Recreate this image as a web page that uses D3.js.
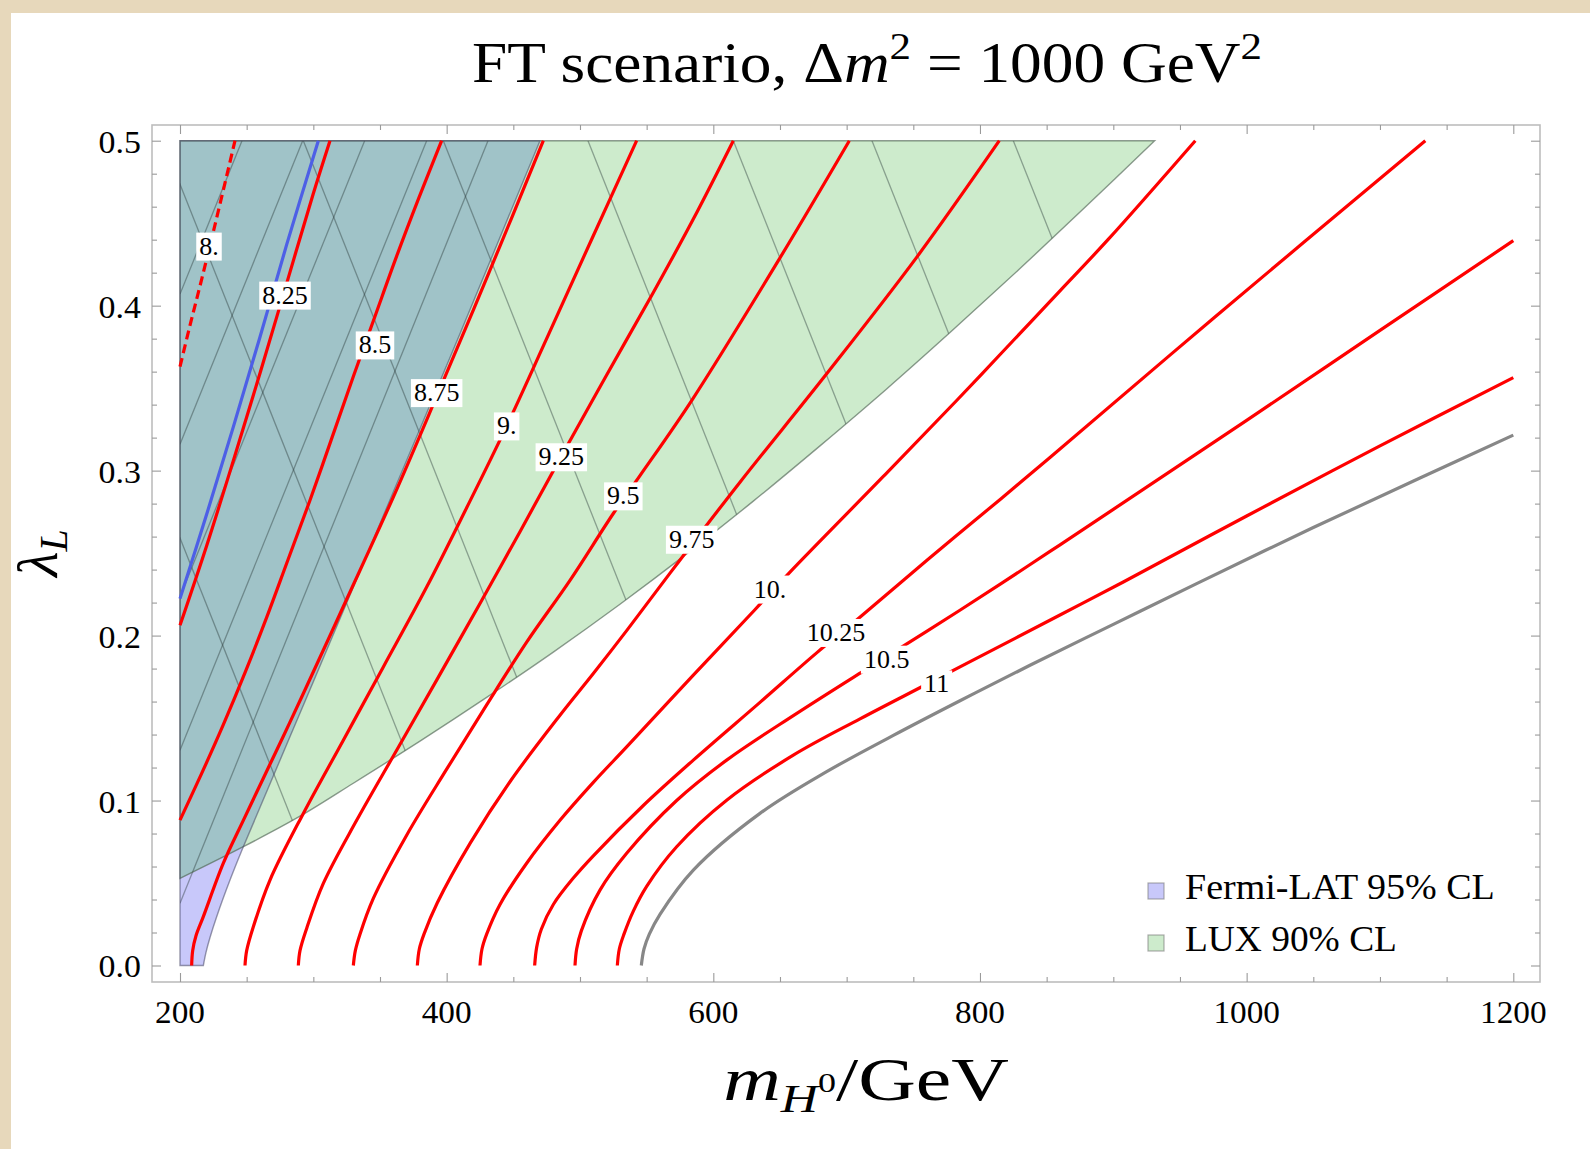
<!DOCTYPE html>
<html><head><meta charset="utf-8">
<script src="https://cdn.jsdelivr.net/npm/d3@7"></script>
<style>html,body{margin:0;padding:0;background:#fff;} svg{display:block}</style>
</head><body>
<svg id="chart" width="1590" height="1149"></svg>
<script>
// ---------------- data ----------------
const xTickValues = [200, 400, 600, 800, 1000, 1200];
const xTickLabels = ["200", "400", "600", "800", "1000", "1200"];
const yTickValues = [0, 0.1, 0.2, 0.3, 0.4, 0.5];
const yTickLabels = ["0.0", "0.1", "0.2", "0.3", "0.4", "0.5"];

// LUX 90% CL excluded region: lower/right boundary from the tip at lambda=0.5 down to m=200
const luxBoundary = [[931,0.5],[880,0.4605],[830,0.4225],[780,0.3855],[730,0.3495],[680,0.315],[630,0.2815],[580,0.2495],[530,0.219],[480,0.190],[430,0.1625],[380,0.136],[330,0.1105],[290,0.0905],[247.5,0.072],[200,0.0528]];
// Fermi-LAT 95% CL excluded region: right boundary from lambda=0 up to lambda=0.5
const fermiBoundary = [[217.5,0],[219.5,0.008],[222.5,0.017],[227.5,0.0296],[237.5,0.0518],[247.5,0.072],[300,0.172],[360,0.287],[410,0.383],[470,0.5]];
// mesh lines: LUX family (m at lambda=0.5, m at lambda=0)
const luxMeshTop = [81.5, 187, 292.5, 397.5, 506, 615, 719, 825];
const luxMeshBottom = [327.5, 433, 538.5, 643.5, 752, 861, 965, 1071];
// mesh lines: Fermi family (lambda at m=200, m at lambda=0.5)
const fermiMeshLeft = [0.0377, 0.1305, 0.2235, 0.316, 0.407];
const fermiMeshTop = [431, 385, 338.5, 292, 246.5];

// contours (m, lambda)
const contour800 = [[200,0.363],[207.5,0.388],[216.25,0.416],[226.25,0.449],[241.25,0.5]];
const blueCurve = [[200,0.2224],[220,0.2735],[240,0.3265],[260,0.381],[280,0.437],[303.75,0.5]];
const contour825 = [[200,0.2062],[220,0.2545],[240,0.306],[260,0.359],[280,0.4135],[300,0.468],[312.5,0.5]];
const contour850 = [[200,0.0881],[216,0.116],[232.5,0.146],[249,0.178],[265,0.211],[281,0.246],[297.5,0.282],[314,0.320],[330,0.357],[346,0.393],[362.5,0.430],[379,0.465],[396.25,0.5]];
const contour875 = [[208.75,0],[209.5,0.009],[212,0.018],[217.5,0.0296],[232.5,0.062],[247.5,0.088],[262.5,0.1135],[277.5,0.139],[292.5,0.1649],[325,0.222],[360,0.284],[392.5,0.345],[432.5,0.4215],[472.5,0.5]];
const contour900 = [[248.75,0],[250,0.009],[255,0.0235],[267.5,0.0518],[292.5,0.0922],[322.5,0.1366],[352.5,0.181],[385,0.2294],[415,0.2775],[445,0.327],[475,0.380],[507.5,0.438],[542.5,0.5]];
const contour925 = [[288.75,0],[290,0.009],[295,0.0225],[307.5,0.0498],[332.5,0.088],[362.5,0.1305],[392.5,0.173],[425,0.2195],[455,0.263],[486,0.3087],[520,0.358],[555,0.408],[585,0.4525],[615,0.5]];
const contour950 = [[330,0],[331.5,0.009],[335,0.019],[345,0.0407],[370,0.079],[400,0.119],[430,0.158],[460,0.196],[492.5,0.2335],[525,0.274],[545,0.297],[583.75,0.3425],[648.75,0.4273],[702,0.5]];
const contour975 = [[378,0],[379.5,0.010],[383,0.019],[393,0.038],[418,0.0746],[448,0.112],[485,0.1517],[510,0.177],[535,0.203],[573.75,0.2445],[620,0.293],[685,0.3587],[752.5,0.4293],[814.5,0.5]];
const contour1000 = [[425,0],[426.5,0.010],[430,0.019],[440,0.037],[460,0.062],[485,0.088],[510,0.111],[535,0.1325],[585,0.176],[631,0.2155],[657.5,0.2385],[727.5,0.2965],[782.5,0.3425],[815.8,0.371],[860,0.409],[896,0.44],[961.5,0.5]];
const contour1025 = [[466,0],[467.5,0.011],[471,0.022],[480,0.037],[495,0.053],[510,0.0665],[547.5,0.097],[585,0.1245],[635,0.1595],[677.5,0.1895],[707.5,0.2095],[760,0.2455],[815.8,0.283],[852.5,0.308],[976,0.393],[1134,0.5]];
const contour1050 = [[496.25,0],[497.5,0.010],[501,0.021],[515,0.0457],[535,0.068],[572.5,0.100],[610,0.1245],[660,0.1515],[712.5,0.1785],[760,0.2025],[815.8,0.2315],[852.5,0.251],[900,0.2765],[1000,0.3305],[1100,0.385],[1200,0.4394]];
const contour1100 = [[528,0],[529.5,0.010],[533,0.019],[540,0.033],[550,0.048],[572.5,0.072],[610,0.1002],[660,0.1275],[710,0.1495],[760,0.1705],[810,0.1915],[860,0.2125],[907.5,0.2325],[1000,0.2725],[1100,0.315],[1200,0.3564]];
const grayCurve = [[546,0],[548,0.010],[552,0.019],[560,0.031],[585,0.0578],[635,0.0922],[685,0.1175],[735,0.1395],[785,0.1605],[837.5,0.182],[900,0.2068],[962.5,0.2315],[1050,0.2655],[1130,0.2955],[1200,0.3215]];

const redContours = [contour800, contour825, contour850, contour875, contour900, contour925, contour950, contour975, contour1000, contour1025, contour1050, contour1100];

// contour labels
const labelTexts = ["8.", "8.25", "8.5", "8.75", "9.", "9.25", "9.5", "9.75", "10.", "10.25", "10.5", "11"];
const labelM = [221.75, 278.75, 346.25, 392.5, 445, 486, 532.5, 583.75, 642.5, 692, 730, 767.5];
const labelLambda = [0.4364, 0.4067, 0.3765, 0.3476, 0.3274, 0.3087, 0.285, 0.2587, 0.2285, 0.2022, 0.186, 0.171];

const legendNames = ["Fermi-LAT 95% CL", "LUX 90% CL"];
const legendColors = ["#c8c8fa", "#cdebcc"];

// ---------------- drawing ----------------
const W = 1590, H = 1149;
const svg = d3.select("#chart");
const SERIF = "'Liberation Serif', 'DejaVu Serif', serif";

svg.append("rect").attr("width", W).attr("height", H).attr("fill", "#ffffff");
svg.append("rect").attr("x", 0).attr("y", 0).attr("width", W).attr("height", 13).attr("fill", "#e7d8bb");
svg.append("rect").attr("x", 0).attr("y", 0).attr("width", 11).attr("height", H).attr("fill", "#e7d8bb");

const frame = {left: 152, right: 1540, top: 125, bottom: 982};
const x = d3.scaleLinear().domain([200, 1200]).range([180, 1513.3]);
const y = d3.scaleLinear().domain([0, 0.5]).range([965.5, 140.7]);

const defs = svg.append("defs");
const line = d3.line().x(d => x(d[0])).y(d => y(d[1]));
const smooth = d3.line().x(d => x(d[0])).y(d => y(d[1])).curve(d3.curveCatmullRom.alpha(0.5));

// region paths: smooth boundary + straight frame edges
const luxPath = "M" + x(200) + "," + y(0.5) + "L" + smooth(luxBoundary).slice(1) + "Z";
const fermiPath = "M" + x(200) + "," + y(0) + "L" + smooth(fermiBoundary).slice(1) + "L" + x(200) + "," + y(0.5) + "Z";

defs.append("clipPath").attr("id", "luxClip").append("path").attr("d", luxPath);
defs.append("clipPath").attr("id", "fermiClip").append("path").attr("d", fermiPath);
defs.append("clipPath").attr("id", "plotClip").append("rect")
  .attr("x", frame.left).attr("y", frame.top).attr("width", frame.right - frame.left).attr("height", frame.bottom - frame.top);

const plot = svg.append("g").attr("clip-path", "url(#plotClip)");

// regions
plot.append("path").attr("d", fermiPath).attr("fill", "#c8c8fa");
plot.append("path").attr("d", luxPath).attr("fill", "#cdebcc");
plot.append("path").attr("d", fermiPath).attr("fill", "#a0c3c8").attr("clip-path", "url(#luxClip)");

// mesh
const meshStroke = "rgba(40,55,55,0.42)";
const luxMesh = plot.append("g").attr("clip-path", "url(#luxClip)");
luxMeshTop.forEach((mt, i) => {
  luxMesh.append("path").attr("d", line([[mt, 0.5], [luxMeshBottom[i], 0]]))
    .attr("stroke", meshStroke).attr("stroke-width", 1.3).attr("fill", "none");
});
const fermiMesh = plot.append("g").attr("clip-path", "url(#fermiClip)");
fermiMeshLeft.forEach((l0, i) => {
  fermiMesh.append("path").attr("d", line([[200, l0], [fermiMeshTop[i], 0.5]]))
    .attr("stroke", meshStroke).attr("stroke-width", 1.3).attr("fill", "none");
});

// region borders
plot.append("path").attr("d", luxPath).attr("fill", "none")
  .attr("stroke", "rgba(70,90,75,0.6)").attr("stroke-width", 1.4);
plot.append("path").attr("d", fermiPath).attr("fill", "none")
  .attr("stroke", "rgba(70,70,100,0.55)").attr("stroke-width", 1.4);

// contours
plot.append("path").attr("d", smooth(grayCurve)).attr("fill", "none")
  .attr("stroke", "#878787").attr("stroke-width", 3.2);
redContours.forEach((c, i) => {
  const p = plot.append("path").attr("d", smooth(c)).attr("fill", "none")
    .attr("stroke", "#ff0000").attr("stroke-width", 3.2);
  if (i === 0) p.attr("stroke-dasharray", "9,5");
});
plot.append("path").attr("d", smooth(blueCurve)).attr("fill", "none")
  .attr("stroke", "#4d5fe6").attr("stroke-width", 3.2);

// contour labels
const labG = svg.append("g");
labelTexts.forEach((t, i) => {
  const cx = x(labelM[i]), cy = y(labelLambda[i]);
  const g = labG.append("g");
  const r = g.append("rect").attr("fill", "#ffffff");
  const tx = g.append("text").attr("x", cx).attr("y", cy + 9)
    .attr("text-anchor", "middle").attr("font-family", SERIF).attr("font-size", 26)
    .attr("fill", "#000").text(t);
  const bb = tx.node().getBBox();
  r.attr("x", bb.x - 3).attr("y", bb.y + 1).attr("width", bb.width + 6).attr("height", bb.height - 1);
});

// frame
svg.append("rect").attr("x", frame.left).attr("y", frame.top)
  .attr("width", frame.right - frame.left).attr("height", frame.bottom - frame.top)
  .attr("fill", "none").attr("stroke", "#bdbdbd").attr("stroke-width", 1.6);

const tickColor = "#9a9a9a";
const xMinor = d3.range(200, 1201, 50).filter(v => v % 200 !== 0);
const yMinor = d3.range(0, 0.501, 0.02).filter(v => Math.abs(v * 10 - Math.round(v * 10)) > 1e-6);

function axisG(axis, tx, ty) {
  const g = svg.append("g").attr("transform", `translate(${tx},${ty})`).call(axis);
  g.select(".domain").remove();
  g.selectAll("line").attr("stroke", tickColor).attr("stroke-width", 1.1);
  g.selectAll("text").remove();
  return g;
}
axisG(d3.axisBottom(x).tickValues(xTickValues).tickSize(-9), 0, frame.bottom);
axisG(d3.axisBottom(x).tickValues(xMinor).tickSize(-5), 0, frame.bottom);
axisG(d3.axisTop(x).tickValues(xTickValues).tickSize(-9), 0, frame.top);
axisG(d3.axisTop(x).tickValues(xMinor).tickSize(-5), 0, frame.top);
axisG(d3.axisLeft(y).tickValues(yTickValues).tickSize(-9), frame.left, 0);
axisG(d3.axisLeft(y).tickValues(yMinor).tickSize(-5), frame.left, 0);
axisG(d3.axisRight(y).tickValues(yTickValues).tickSize(-9), frame.right, 0);
axisG(d3.axisRight(y).tickValues(yMinor).tickSize(-5), frame.right, 0);

// tick labels
xTickValues.forEach((v, i) => {
  const t = svg.append("text").attr("x", x(v)).attr("y", 1023).attr("text-anchor", "middle")
    .attr("font-family", SERIF).attr("font-size", 32).attr("fill", "#000").text(xTickLabels[i]);
  t.attr("transform", `translate(${x(v)},0) scale(1.04,1) translate(${-x(v)},0)`);
});
yTickValues.forEach((v, i) => {
  const t = svg.append("text").attr("x", 141).attr("y", y(v) + 12).attr("text-anchor", "end")
    .attr("font-family", SERIF).attr("font-size", 32).attr("fill", "#000").text(yTickLabels[i]);
  t.attr("transform", `translate(141,0) scale(1.06,1) translate(-141,0)`);
});

function fitWidth(sel, cx, target) {
  const w = sel.node().getBBox().width;
  const s = target / w;
  sel.attr("transform", `translate(${cx},0) scale(${s},1) translate(${-cx},0)`);
}

// title
const title = svg.append("text").attr("x", 867).attr("y", 82).attr("text-anchor", "middle")
  .attr("font-family", SERIF).attr("font-size", 56).attr("fill", "#000");
title.append("tspan").text("FT scenario, Δ");
title.append("tspan").attr("font-style", "italic").text("m");
title.append("tspan").attr("font-size", 38).attr("dy", -23).text("2");
title.append("tspan").attr("dy", 23).text(" = 1000 GeV");
title.append("tspan").attr("font-size", 38).attr("dy", -23).text("2");
fitWidth(title, 867, 790);

// x-axis label
const xl = svg.append("text").attr("x", 866).attr("y", 1100).attr("text-anchor", "middle")
  .attr("font-family", SERIF).attr("font-size", 62).attr("fill", "#000");
xl.append("tspan").attr("font-style", "italic").text("m");
xl.append("tspan").attr("font-style", "italic").attr("font-size", 40).attr("dy", 12).text("H");
xl.append("tspan").attr("font-size", 28).attr("dy", -20).text("0");
xl.append("tspan").attr("dy", 8).text("/GeV");
fitWidth(xl, 866, 286);

// y-axis label
const yl = svg.append("text").attr("transform", "translate(57,553) rotate(-90)")
  .attr("text-anchor", "middle").attr("font-family", SERIF).attr("font-size", 58).attr("fill", "#000");
yl.append("tspan").attr("font-style", "italic").text("λ");
yl.append("tspan").attr("font-style", "italic").attr("font-size", 40).attr("dy", 10).text("L");

// legend
legendNames.forEach((n, i) => {
  const base = 899 + i * 52;
  svg.append("rect").attr("x", 1148).attr("y", base - 16).attr("width", 16).attr("height", 16)
    .attr("fill", legendColors[i]).attr("stroke", "rgba(120,120,120,0.6)").attr("stroke-width", 1.2);
  const t = svg.append("text").attr("x", 1185).attr("y", base).attr("font-family", SERIF)
    .attr("font-size", 36).attr("fill", "#000").text(n);
  const w = t.node().getBBox().width;
  const target = i === 0 ? 310 : 212;
  t.attr("transform", `translate(1185,0) scale(${target / w},1) translate(-1185,0)`);
});
</script>
</body></html>
